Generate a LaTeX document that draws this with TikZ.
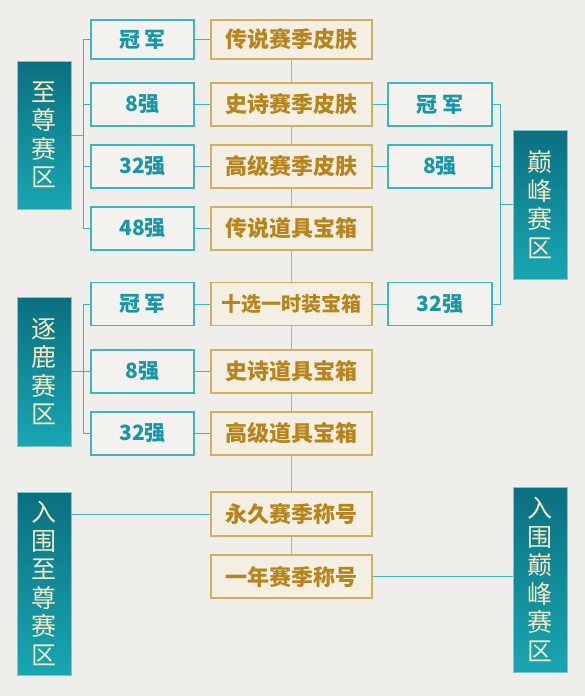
\documentclass[tikz,border=0pt]{standalone}
\usepackage{fontspec}
\setmainfont{Noto Sans CJK SC}
\usepackage{xcolor}
\usetikzlibrary{calc}

\definecolor{bgpaper}{HTML}{EFEEEA}
\definecolor{tealline}{HTML}{3BB7C3}
\definecolor{tealtext}{HTML}{1796A8}
\definecolor{tealdark}{HTML}{0C6F80}
\definecolor{teallight}{HTML}{18A6B2}
\definecolor{goldline}{HTML}{D6AE5E}
\definecolor{goldtext}{HTML}{B7841C}
\definecolor{goldfill}{HTML}{F4EFE3}
\definecolor{cream}{HTML}{F4E8C2}
\definecolor{boxfill}{HTML}{F3F2EF}

\tikzset{
	zone/.style={minimum width=54pt, inner sep=0pt, top color=tealdark, bottom color=teallight,
		draw=teallight!60!white, line width=0.6pt, text=cream, align=center,
		font=\fontsize{25}{28.5}\selectfont},
	rankbox/.style={draw=tealline, line width=1.2pt, fill=boxfill, minimum width=103pt,
		minimum height=43pt, inner sep=0pt, text=tealtext, font=\fontsize{21}{21}\selectfont\bfseries},
	prizebox/.style={draw=goldline, line width=1.2pt, fill=goldfill, minimum width=161pt,
		minimum height=43pt, inner sep=0pt, text=goldtext, font=\fontsize{22}{22}\selectfont\bfseries},
	tlink/.style={tealline, line width=1pt},
	glink/.style={goldline, line width=1.5pt}
}

\begin{document}
\begin{tikzpicture}[x=1pt,y=-1pt]
			
			% paper
			\fill[bgpaper] (0,0) rectangle (585,696);
			\useasboundingbox (0,0) rectangle (585,696);
			
			% prizes (middle column)
			\node[prizebox, minimum height=39pt] (g1) at (291.5,39.5) {传说赛季皮肤};
			\node[prizebox] (g2) at (291.5,104.5) {史诗赛季皮肤};
			\node[prizebox] (g3) at (291.5,166.5) {高级赛季皮肤};
			\node[prizebox] (g4) at (291.5,228.5) {传说道具宝箱};
			\node[prizebox, font=\fontsize{20}{20}\selectfont\bfseries] (g5) at (291.5,304) {十选一时装宝箱};
			\node[prizebox] (g6) at (291.5,371.5) {史诗道具宝箱};
			\node[prizebox] (g7) at (291.5,433.5) {高级道具宝箱};
			\node[prizebox, minimum height=44pt] (g8) at (291.5,514) {永久赛季称号};
			\node[prizebox] (g9) at (291.5,576.5) {一年赛季称号};
			\foreach \a/\b in {g1/g2,g2/g3,g3/g4,g4/g5,g5/g6,g6/g7,g7/g8,g8/g9}
				\draw[glink] (\a) -- (\b);
			
			% ranks, left column
			\node[rankbox, minimum height=39pt] (zr1) at (142.5,39.5) {冠 军};
			\node[rankbox] (zr2) at (142.5,104.5) {8强};
			\node[rankbox] (zr3) at (142.5,166.5) {32强};
			\node[rankbox] (zr4) at (142.5,228.5) {48强};
			\node[rankbox] (lr1) at (142.5,304) {冠 军};
			\node[rankbox] (lr2) at (142.5,371.5) {8强};
			\node[rankbox] (lr3) at (142.5,433.5) {32强};
			
			% ranks, right column
			\node[rankbox, minimum width=104pt] (pr1) at (440,104.5) {冠 军};
			\node[rankbox, minimum width=104pt] (pr2) at (440,166.5) {8强};
			\node[rankbox, minimum width=104pt] (pr3) at (440,304) {32强};
			
			% zones
			\node[zone, minimum height=148pt] (zzone) at (44,135) {至\\尊\\赛\\区};
			\node[zone, minimum height=149pt] (lzone) at (44,371.5) {逐\\鹿\\赛\\区};
			\node[zone, minimum height=149pt] (pzone) at (540,204.5) {巅\\峰\\赛\\区};
			\node[zone, minimum height=183pt] (zin) at (44,583.5) {入\\围\\至\\尊\\赛\\区};
			\node[zone, minimum height=185pt] (pin) at (540,579.5) {入\\围\\巅\\峰\\赛\\区};
			
			% rank to prize
			\foreach \a/\b in {zr1/g1,zr2/g2,zr3/g3,zr4/g4,lr1/g5,lr2/g6,lr3/g7,g2/pr1,g3/pr2,g5/pr3}
				\draw[tlink] (\a) -- (\b);
			
			% brackets
			\coordinate (ltrunk) at (83,0);
			\coordinate (rtrunk) at (500,0);
			\draw[tlink] (zr1.west) -- (zr1.west -| ltrunk) |- (zr4.west);
			\draw[tlink] (zr2.west) -- (zr2.west -| ltrunk);
			\draw[tlink] (zr3.west) -- (zr3.west -| ltrunk);
			\draw[tlink] (zzone.east) -- (zzone.east -| ltrunk);
			\draw[tlink] (lr1.west) -- (lr1.west -| ltrunk) |- (lr3.west);
			\draw[tlink] (lr2.west) -- (lr2.west -| ltrunk);
			\draw[tlink] (lzone.east) -- (lzone.east -| ltrunk);
			\draw[tlink] (pr1.east) -- (pr1.east -| rtrunk) |- (pr3.east);
			\draw[tlink] (pr2.east) -- (pr2.east -| rtrunk);
			\draw[tlink] (pzone.west) -- (pzone.west -| rtrunk);
			
			% titles
			\draw[tlink] (zin.east |- g8.west) -- (g8.west);
			\draw[tlink] (g9.east) -- (pin.west |- g9.east);
			
		\end{tikzpicture}
\end{document}
